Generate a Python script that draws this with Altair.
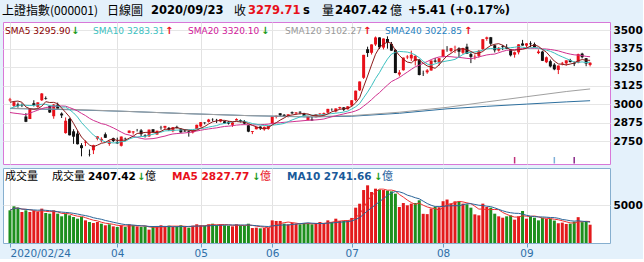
import altair as alt
import pandas as pd

# ---------------- data ----------------
prior_close = [3095.79, 3052.14, 3060.75, 2976.53, 2746.61, 2783.29, 2818.09, 2866.51,
               2875.96, 2890.49, 2901.67, 2926.90, 2906.07, 2917.01, 2983.62, 2984.97,
               2975.40, 3030.15, 3039.67]

opens = [3025, 2988, 2997, 2995, 2916, 2899, 3006, 2981, 3026, 3039,
         2987, 2918, 2996, 2936, 2804, 2900, 2816, 2801, 2722, 2740,
         2662, 2688, 2766, 2754, 2796, 2731, 2770, 2743, 2718, 2766,
         2805, 2808, 2826, 2822, 2788, 2782, 2830, 2794, 2840, 2840,
         2839, 2817, 2846, 2830, 2821, 2816, 2808, 2831, 2849, 2875,
         2880, 2896, 2893, 2882, 2884, 2880, 2860, 2889, 2891, 2884,
         2857, 2812, 2830, 2848, 2830, 2832, 2868, 2913, 2938, 2928,
         2917, 2945, 2937, 2948, 2937, 2891, 2896, 2911, 2932, 2930,
         2942, 2966, 2950, 2972, 2978, 2965, 2991, 3027, 3093, 3178,
         3371, 3347, 3403, 3451, 3382, 3440, 3407, 3366, 3200, 3229,
         3316, 3309, 3291, 3300, 3206, 3215, 3227, 3294, 3281, 3320,
         3372, 3359, 3385, 3377, 3347, 3388, 3338, 3318, 3326, 3371,
         3441, 3452, 3398, 3362, 3391, 3385, 3370, 3334, 3350, 3410,
         3395, 3410, 3405, 3345, 3355, 3283, 3290, 3267, 3231, 3274,
         3275, 3297, 3276, 3280, 3341, 3310, 3265]

highs = [3042, 3014, 3010, 3005, 2939, 2973, 3026, 3012, 3075, 3052,
         2990, 3001, 3010, 2944, 2910, 2905, 2830, 2823, 2736, 2754,
         2693, 2725, 2783, 2776, 2808, 2755, 2773, 2773, 2781, 2773,
         2822, 2818, 2832, 2831, 2796, 2828, 2830, 2820, 2853, 2853,
         2845, 2845, 2854, 2838, 2830, 2822, 2824, 2861, 2879, 2877,
         2900, 2904, 2900, 2899, 2888, 2885, 2879, 2904, 2896, 2892,
         2860, 2818, 2847, 2850, 2848, 2853, 2916, 2922, 2938, 2932,
         2931, 2950, 2945, 2952, 2941, 2922, 2920, 2933, 2939, 2943,
         2968, 2971, 2971, 2982, 2980, 2987, 3027, 3091, 3153, 3333,
         3388, 3404, 3457, 3451, 3444, 3458, 3420, 3373, 3230, 3315,
         3331, 3361, 3332, 3304, 3226, 3237, 3295, 3312, 3311, 3369,
         3392, 3380, 3395, 3384, 3381, 3408, 3349, 3336, 3366, 3440,
         3456, 3454, 3403, 3385, 3400, 3405, 3372, 3355, 3405, 3434,
         3412, 3425, 3416, 3369, 3361, 3322, 3301, 3277, 3261, 3285,
         3296, 3306, 3288, 3341, 3347, 3311, 3283]

lows = [3016, 2978, 2976, 2980, 2878, 2899, 2984, 2975, 3021, 3030,
        2940, 2901, 2968, 2906, 2800, 2788, 2731, 2727, 2647, 2716,
        2646, 2662, 2755, 2741, 2771, 2718, 2743, 2731, 2713, 2752,
        2803, 2794, 2815, 2784, 2774, 2778, 2807, 2793, 2827, 2831,
        2818, 2810, 2835, 2805, 2812, 2780, 2801, 2830, 2844, 2863,
        2875, 2883, 2872, 2877, 2869, 2862, 2846, 2888, 2876, 2862,
        2810, 2797, 2829, 2825, 2820, 2826, 2868, 2903, 2916, 2913,
        2910, 2932, 2929, 2931, 2912, 2891, 2886, 2911, 2924, 2926,
        2935, 2954, 2944, 2966, 2953, 2963, 2985, 3019, 3088, 3170,
        3319, 3335, 3393, 3373, 3370, 3375, 3360, 3209, 3187, 3226,
        3304, 3292, 3261, 3194, 3190, 3205, 3226, 3280, 3261, 3317,
        3354, 3349, 3345, 3317, 3338, 3339, 3277, 3301, 3314, 3364,
        3428, 3394, 3349, 3355, 3365, 3372, 3322, 3314, 3336, 3395,
        3381, 3385, 3383, 3338, 3291, 3277, 3248, 3229, 3203, 3262,
        3260, 3282, 3257, 3276, 3309, 3256, 3255]

closes = [3031.23, 3013.05, 2987.93, 2991.33, 2880.30, 2970.93, 2992.90, 3011.67, 3071.68, 3034.51,
          2943.29, 2996.76, 2968.52, 2923.49, 2887.43, 2789.25, 2779.64, 2728.76, 2702.13, 2745.62,
          2660.17, 2722.44, 2781.59, 2764.91, 2772.20, 2747.21, 2750.30, 2734.52, 2780.64, 2763.99,
          2820.76, 2815.37, 2825.90, 2796.63, 2783.05, 2827.28, 2811.17, 2819.94, 2838.49, 2852.55,
          2827.01, 2843.98, 2838.50, 2808.53, 2815.49, 2810.02, 2822.44, 2860.08, 2878.14, 2871.52,
          2895.34, 2894.80, 2891.56, 2898.05, 2870.34, 2868.46, 2875.42, 2898.58, 2883.74, 2867.92,
          2813.77, 2817.97, 2846.55, 2836.80, 2846.22, 2852.35, 2915.43, 2921.40, 2923.37, 2919.25,
          2930.80, 2937.77, 2943.75, 2943.32, 2920.90, 2919.74, 2890.03, 2931.75, 2935.87, 2939.32,
          2967.63, 2965.27, 2970.62, 2979.55, 2961.52, 2984.67, 3025.98, 3090.57, 3152.81, 3332.88,
          3345.34, 3403.44, 3450.59, 3383.32, 3443.29, 3414.62, 3361.30, 3210.10, 3214.13, 3314.15,
          3320.90, 3333.16, 3325.11, 3196.77, 3205.23, 3227.96, 3294.55, 3286.82, 3310.01, 3367.97,
          3371.69, 3377.56, 3386.46, 3354.04, 3379.25, 3340.29, 3319.27, 3320.73, 3360.10, 3438.80,
          3451.09, 3408.13, 3363.90, 3380.68, 3385.64, 3373.58, 3329.74, 3350.59, 3403.81, 3395.68,
          3410.61, 3404.80, 3384.98, 3355.37, 3292.59, 3316.42, 3254.63, 3234.82, 3260.35, 3278.81,
          3295.68, 3283.92, 3270.44, 3338.09, 3316.94, 3274.30, 3279.71]

volumes = [4300, 4830, 4650, 4080, 4300, 4080, 4210, 4080, 4520, 3950,
           3860, 4300, 3860, 3510, 3860, 3640, 3420, 3200, 3420, 2980,
           2760, 2630, 2760, 2540, 2330, 2460, 2190, 2110, 2330, 2110,
           2460, 2330, 2190, 2110, 2190, 1760, 2110, 2190, 2330, 2190,
           2280, 2110, 2190, 2330, 2110, 2020, 2280, 2460, 2330, 2280,
           2460, 2540, 2370, 2460, 2330, 2280, 2190, 2460, 2330, 2280,
           2540, 1970, 2020, 1930, 1970, 2020, 2980, 2900, 2900, 2540,
           2460, 2630, 2540, 2460, 2630, 2540, 2460, 2630, 2760, 2540,
           2980, 2760, 3200, 2900, 2900, 2980, 3300, 4650, 5170, 6970,
           7590, 6710, 7150, 7020, 6970, 6900, 6800, 6490, 4740, 5260,
           4960, 5180, 5260, 5620, 3840, 3800, 4540, 4740, 4700, 5500,
           5720, 5180, 5480, 5480, 5180, 5090, 4650, 3770, 3640, 5180,
           4740, 4650, 3860, 3510, 3330, 3510, 3640, 3070, 3510, 4210,
           3200, 3510, 3330, 2980, 3330, 3200, 3200, 2950, 2600, 2680,
           2500, 2547.75, 2800, 3400, 2750, 2781.43, 2407.42]

long_idx = [0, 15, 30, 45, 60, 75, 86, 98, 110, 120, 130, 140, 146]
sma120_vals = [2972, 2965, 2950, 2935, 2922, 2915, 2922, 2945, 2978, 3015, 3050, 3085, 3102.27]
sma240_vals = [2970, 2962, 2950, 2935, 2922, 2913, 2918, 2938, 2968, 2985, 3000, 3015, 3022.85]

tick_idx = [0, 27, 48, 66, 86, 109, 130]
tick_labels = ["2020/02/24", "04", "05", "06", "07", "08", "09"]
price_ticks = [2750, 2875, 3000, 3125, 3250, 3375, 3500]
vol_ticks = [5000]

event_idx = [127, 137, 142]
event_colors = ["#c0307a", "#7fb0d8", "#8a2a8a"]

header_parts = ["上證指數(000001)", "日線圖", "2020/09/23", "收", "3279.71", "s",
                "量", "2407.42", "億", "+5.41 (+0.17%)"]
ma_labels = ["SMA5 3295.90", "SMA10 3283.31", "SMA20 3320.10", "SMA120 3102.27", "SMA240 3022.85"]
ma_arrows = ["↓", "↑", "↓", "↑", "↑"]
vol_labels = ["成交量", "成交量", "2407.42", "↓", "億", "MA5 2827.77", "↓", "億", "MA10 2741.66", "↓", "億"]

# ---------------- tables ----------------
nprior = len(prior_close)
n = len(closes)
df = pd.DataFrame({
    "idx": list(range(-nprior, n)),
    "close": prior_close + closes,
    "open": [None] * nprior + opens,
    "high": [None] * nprior + highs,
    "low": [None] * nprior + lows,
    "vol": [None] * nprior + volumes,
})
df_long = pd.DataFrame({"idx": long_idx, "sma120": sma120_vals, "sma240": sma240_vals})
df_evt = pd.DataFrame({"idx": event_idx, "c": event_colors})

CJK = "Noto Sans CJK TC"
LAT = "DejaVu Sans"
RED = "#e8101a"
GREEN = "#1a9a1a"

sort = [alt.SortField("idx")]
base = (
    alt.Chart(df)
    .transform_window(sma5="mean(close)", frame=[-4, 0], sort=sort)
    .transform_window(sma10="mean(close)", frame=[-9, 0], sort=sort)
    .transform_window(sma20="mean(close)", frame=[-19, 0], sort=sort)
    .transform_window(prev="lag(close)", sort=sort)
    .transform_filter("datum.idx >= 0")
    .transform_window(vma5="mean(vol)", frame=[-4, 0], sort=sort)
    .transform_window(vma10="mean(vol)", frame=[-9, 0], sort=sort)
    .transform_calculate(
        up="datum.close >= datum.open ? 'cu' : 'cd'",
        vup="datum.close >= datum.prev ? 'vu' : 'vd'",
    )
)

xscale = alt.Scale(domain=[-0.5, 149.75], nice=False, zero=False)
x_axis_price = alt.Axis(values=tick_idx, labels=False, ticks=False, domain=False,
                        grid=True, gridColor="#e2e2e2", title=None)
label_expr = ("[" + ",".join("'%s'" % t for t in tick_labels) + "][indexof(["
              + ",".join(str(i) for i in tick_idx) + "], datum.value)]")
x_axis_vol = alt.Axis(values=tick_idx, labelExpr=label_expr, ticks=True, tickSize=4,
                      tickColor="#6a9fc8", domain=False, grid=True, gridColor="#e2e2e2",
                      labelFont=LAT, labelFontSize=10.5, labelColor="#2f6fa8",
                      labelPadding=1, labelOverlap=False, labelFlush=False,
                      labelAlign={"condition": {"test": "datum.value == 0", "value": "left"},
                                  "value": "center"},
                      title=None)

pscale = alt.Scale(domain=[2595, 3555], nice=False, zero=False)
p_axis = alt.Axis(orient="right", values=price_ticks, format="d", ticks=False, domain=False,
                  grid=True, gridColor="#e6e6e6", labelFont=LAT, labelFontWeight="bold",
                  labelFontSize=10.5, labelColor="#000000", labelPadding=3, title=None)
vscale = alt.Scale(domain=[0, 9870], nice=False, zero=True)
v_axis = alt.Axis(orient="right", values=vol_ticks, format="d", ticks=False, domain=False,
                  grid=True, gridColor="#e6e6e6", labelFont=LAT, labelFontWeight="bold",
                  labelFontSize=10.5, labelColor="#000000", labelPadding=3, title=None)

X = lambda f: alt.X(f, scale=xscale, axis=x_axis_price, title=None)
XV = lambda f: alt.X(f, scale=xscale, axis=x_axis_vol, title=None)
Y = lambda f: alt.Y(f, scale=pscale, axis=p_axis, title=None)
YV = lambda f: alt.Y(f, scale=vscale, axis=v_axis, title=None)

candle_color = alt.Color("up:N", scale=alt.Scale(domain=["cu", "cd"], range=[RED, "#111111"]), legend=None)
vol_color = alt.Color("vup:N", scale=alt.Scale(domain=["vu", "vd"], range=["#e31a1c", "#1d8f1d"]), legend=None)


def txt(text, x, y, color, size, font, weight="normal"):
    return alt.Chart(pd.DataFrame({"t": [text]})).mark_text(
        align="left", baseline="middle", font=font, fontSize=size,
        fontWeight=weight, color=color
    ).encode(text="t:N", x=alt.value(x), y=alt.value(y))


# ---------------- price panel ----------------
wick = base.mark_rule(strokeWidth=1).encode(x=X("idx:Q"), y=Y("low:Q"), y2="high:Q", color=candle_color)
body = base.mark_bar(size=3, minBandSize=1).encode(x=X("idx:Q"), y=Y("open:Q"), y2="close:Q", color=candle_color)
l5 = base.mark_line(strokeWidth=1, color="#8b1a1a").encode(x=X("idx:Q"), y=Y("sma5:Q"))
l10 = base.mark_line(strokeWidth=1, color="#3cc0c0").encode(x=X("idx:Q"), y=Y("sma10:Q"))
l20 = base.mark_line(strokeWidth=1, color="#d0308f").encode(x=X("idx:Q"), y=Y("sma20:Q"))
l120 = alt.Chart(df_long).mark_line(strokeWidth=1, color="#a0a0a0").encode(x=X("idx:Q"), y=Y("sma120:Q"))
l240 = alt.Chart(df_long).mark_line(strokeWidth=1, color="#2d6f9e").encode(x=X("idx:Q"), y=Y("sma240:Q"))
evt = alt.Chart(df_evt).mark_rule(strokeWidth=1.5).encode(
    x=X("idx:Q"), y=alt.value(135), y2=alt.value(141.5),
    color=alt.Color("c:N", scale=None, legend=None))

top_pad = alt.Chart(pd.DataFrame({"t": [0]})).mark_rule(opacity=0, color="#ffffff").encode(
    x=alt.value(0), x2=alt.value(5), y=alt.value(-21.5), y2=alt.value(-21.5))


def ph(text, px, color, size, font, weight="normal"):
    return txt(text, px - 1, -11, color, size, font, weight)


header = [
    ph(header_parts[0], 0, "#000000", 12, CJK),
    ph(header_parts[1], 105, "#000000", 12, CJK),
    ph(header_parts[2], 149, "#000000", 11.5, LAT, "bold"),
    ph(header_parts[3], 232, "#000000", 12, CJK),
    ph(header_parts[4], 246, RED, 11.5, LAT, "bold"),
    ph(header_parts[5], 301, "#000000", 11.5, LAT, "bold"),
    ph(header_parts[6], 320, "#000000", 12, CJK),
    ph(header_parts[7], 333, "#000000", 11.5, LAT, "bold"),
    ph(header_parts[8], 388, "#000000", 12, CJK),
    ph(header_parts[9], 406, "#000000", 11.5, LAT, "bold"),
]

ma_colors = ["#8b0000", "#3cbfbf", "#d0209a", "#999999", "#1f7fc0"]
ma_x = [3, 91, 186, 283, 383]
ma_arrow_x = [69, 163, 259, 361, 462]
arrow_colors = [GREEN if a == "↓" else RED for a in ma_arrows]
legend = []
for lab, col, xx, ax, arr, acol in zip(ma_labels, ma_colors, ma_x, ma_arrow_x, ma_arrows, arrow_colors):
    legend.append(txt(lab, xx - 1, 9, col, 9, LAT))
    legend.append(txt(arr, ax - 1, 9, acol, 10, LAT, "bold"))

price = alt.layer(wick, body, l240, l120, l20, l10, l5, evt, top_pad, *header, *legend).properties(
    width=607, height=142,
    view=alt.ViewBackground(fill="#ffffff", stroke="#d878d8", strokeWidth=1),
)

# ---------------- volume panel ----------------
vbar = base.mark_bar(size=3).encode(x=XV("idx:Q"), y=YV("vol:Q"), color=vol_color)
vm5 = base.mark_line(strokeWidth=1, color="#f03030").encode(x=XV("idx:Q"), y=YV("vma5:Q"))
vm10 = base.mark_line(strokeWidth=1, color="#2a6598").encode(x=XV("idx:Q"), y=YV("vma10:Q"))

vol_x = [3, 50, 86, 135, 143, 170, 250, 258, 285, 372, 380]
vol_cols = ["#000000", "#000000", "#000000", GREEN, "#000000", RED, GREEN, RED, "#1a5a9a", GREEN, "#1a5a9a"]
vol_fonts = [CJK, CJK, LAT, LAT, CJK, LAT, LAT, CJK, LAT, LAT, CJK]
vol_sizes = [11, 11, 10.5, 10, 11, 10.5, 10, 11, 10.5, 10, 11]
vol_weights = ["normal", "normal", "bold", "bold", "normal", "bold", "bold", "normal", "bold", "bold", "normal"]
vheader = [txt(t, xx - 1, 9, c, s, f, w)
           for t, xx, c, f, s, w in zip(vol_labels, vol_x, vol_cols, vol_fonts, vol_sizes, vol_weights)]

volume = alt.layer(vbar, vm5, vm10, *vheader).properties(
    width=607, height=75,
    view=alt.ViewBackground(fill="#ffffff", stroke="#86afcf", strokeWidth=1),
)

chart = alt.vconcat(price, volume, spacing=2).resolve_scale(color="independent").properties(
    padding={"left": 1, "top": 0, "right": 0, "bottom": 0},
    background="#e4f1fb",
).configure(font=LAT)

chart.save("out.html", embed_options={"renderer": "svg", "actions": False})
